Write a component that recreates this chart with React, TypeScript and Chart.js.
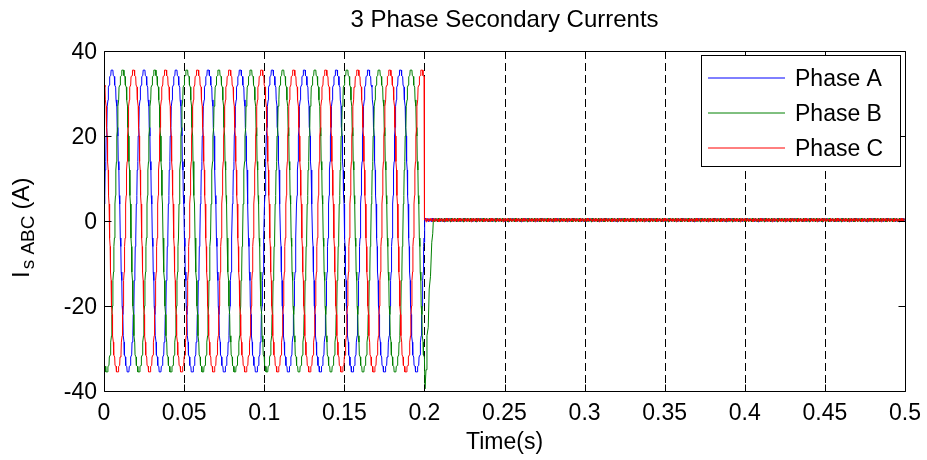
import React, { useEffect, useRef } from "react";
import { Chart, registerables } from "chart.js";

Chart.register(...registerables);

// ---------- text ----------
const TITLE = "3 Phase Secondary Currents";
const X_LABEL = "Time(s)";
const Y_LABEL_MAIN = "I";
const Y_LABEL_SUB = "s ABC";
const Y_LABEL_UNIT = "(A)";
const SERIES_NAMES = ["Phase A", "Phase B", "Phase C"];
const SERIES_COLORS = ["#0000ff", "#008000", "#ff0000"];

// ---------- axes ----------
const X_TICKS = [0, 0.05, 0.1, 0.15, 0.2, 0.25, 0.3, 0.35, 0.4, 0.45, 0.5];
const X_TICK_LABELS = ["0", "0.05", "0.1", "0.15", "0.2", "0.25", "0.3", "0.35", "0.4", "0.45", "0.5"];
const Y_TICKS = [-40, -20, 0, 20, 40];
const Y_TICK_LABELS = ["-40", "-20", "0", "20", "40"];

// ---------- data ----------
const FREQUENCY = 50; // Hz, 10 cycles up to the trip
const FAULT_TIME = 0.2; // s, currents collapse here
const END_TIME = 0.5;
const CYCLES = 10;
const PHASE_SHIFTS = [0, -120, 120]; // deg, A, B, C

// One positive half-cycle of the stepped current (vertices)
const HALF_CYCLE_ANGLES = [3, 9, 13, 20, 24, 32, 36, 45, 49, 60, 64, 76, 80, 100, 104, 116, 120, 131, 135, 144, 148, 156, 160, 167, 171, 177];
const HALF_CYCLE_AMPS = [4, 6, 12, 14, 20, 22, 27, 28.5, 31.5, 32, 34, 34.2, 35.5, 35.5, 34.2, 34, 32, 31.5, 28.5, 27, 22, 20, 14, 12, 6, 4];

// Behaviour right at the trip (t, A)
const TAIL_A_T = [0.2, 0.2003];
const TAIL_A_V = [-5, 0.3];
const TAIL_B_T = [0.2, 0.2004, 0.201, 0.2016, 0.2024, 0.203, 0.2038, 0.2046, 0.2052, 0.2056];
const TAIL_B_V = [-32, -39.5, -35, -27, -25, -16, -13, -5, -3, 0.3];
const TAIL_C_T = [0.2, 0.2001];
const TAIL_C_V = [32, 0.3];

// Residual ripple after the trip (A), sampled every 0.5 ms
const RIPPLE_STEP = 0.0005;
const RIPPLE_AMPS = [0.7, 0.0, 0.5, -0.1, 0.6, 0.1, 0.4, -0.2];

const FONT = '"Liberation Sans", Arial, Helvetica, sans-serif';

type Pt = { x: number; y: number };

function buildPhase(shiftDeg: number, tailT: number[], tailV: number[], rippleOffset: number): Pt[] {
  const period = 1 / FREQUENCY;
  const angles = [...HALF_CYCLE_ANGLES, ...HALF_CYCLE_ANGLES.map((a) => a + 180)];
  const amps = [...HALF_CYCLE_AMPS, ...HALF_CYCLE_AMPS.map((v) => -v)];
  const pts: Pt[] = [];
  for (let k = -2; k <= CYCLES + 1; k++) {
    for (let i = 0; i < angles.length; i++) {
      const t = (k + (angles[i] - shiftDeg) / 360) * period;
      if (t >= -0.003 && t < FAULT_TIME) pts.push({ x: t, y: amps[i] });
    }
  }
  pts.sort((a, b) => a.x - b.x);
  for (let i = 0; i < tailT.length; i++) pts.push({ x: tailT[i], y: tailV[i] });
  let t = tailT[tailT.length - 1] + RIPPLE_STEP;
  let j = rippleOffset;
  while (t <= END_TIME + 1e-9) {
    pts.push({ x: t, y: RIPPLE_AMPS[j % RIPPLE_AMPS.length] });
    t += RIPPLE_STEP;
    j++;
  }
  return pts;
}

const decorPlugin = {
  id: "decor",
  beforeDatasetsDraw(chart: any) {
    const { ctx, chartArea: a, scales } = chart;
    const x = scales.x;
    ctx.save();
    ctx.strokeStyle = "#000";
    ctx.lineWidth = 1;
    ctx.setLineDash([8, 4]);
    for (const v of X_TICKS) {
      if (v <= X_TICKS[0] || v >= X_TICKS[X_TICKS.length - 1]) continue;
      const px = Math.round(x.getPixelForValue(v)) + 0.5;
      ctx.beginPath();
      ctx.moveTo(px, a.top);
      ctx.lineTo(px, a.bottom);
      ctx.stroke();
    }
    ctx.restore();
  },
  afterDatasetsDraw(chart: any) {
    const { ctx, chartArea: a, scales } = chart;
    const x = scales.x;
    const y = scales.y;
    const L = a.left + 0.5;
    const R = a.right + 0.5;
    const T = a.top + 0.5;
    const B = a.bottom + 0.5;
    const tickLen = 7;
    ctx.save();
    ctx.strokeStyle = "#000";
    ctx.lineWidth = 1;
    ctx.setLineDash([]);
    ctx.beginPath();
    ctx.rect(L, T, R - L, B - T);
    ctx.stroke();
    // ticks
    ctx.beginPath();
    for (const v of X_TICKS) {
      const px = Math.round(x.getPixelForValue(v)) + 0.5;
      ctx.moveTo(px, B);
      ctx.lineTo(px, B - tickLen);
      ctx.moveTo(px, T);
      ctx.lineTo(px, T + tickLen);
    }
    for (const v of Y_TICKS) {
      const py = Math.round(y.getPixelForValue(v)) + 0.5;
      ctx.moveTo(L, py);
      ctx.lineTo(L + tickLen, py);
      ctx.moveTo(R, py);
      ctx.lineTo(R - tickLen, py);
    }
    ctx.stroke();

    // tick labels
    ctx.fillStyle = "#000";
    ctx.font = `23px ${FONT}`;
    ctx.textBaseline = "alphabetic";
    ctx.textAlign = "center";
    X_TICKS.forEach((v, i) => {
      ctx.fillText(X_TICK_LABELS[i], x.getPixelForValue(v), 420);
    });
    ctx.textAlign = "right";
    Y_TICKS.forEach((v, i) => {
      ctx.fillText(Y_TICK_LABELS[i], 97, y.getPixelForValue(v) + 8);
    });

    // title and x label
    const cx = (a.left + a.right) / 2;
    ctx.textAlign = "center";
    ctx.font = `24px ${FONT}`;
    ctx.fillText(TITLE, cx, 27);
    ctx.font = `23px ${FONT}`;
    ctx.fillText(X_LABEL, cx, 449);

    // y label with subscript
    ctx.save();
    ctx.translate(29, 278);
    ctx.rotate(-Math.PI / 2);
    ctx.textAlign = "left";
    ctx.font = `24px ${FONT}`;
    ctx.fillText(Y_LABEL_MAIN, 0, 0);
    let off = ctx.measureText(Y_LABEL_MAIN).width + 2;
    ctx.font = `19px ${FONT}`;
    ctx.fillText(Y_LABEL_SUB, off, 5);
    off += ctx.measureText(Y_LABEL_SUB).width + 6;
    ctx.font = `24px ${FONT}`;
    ctx.fillText(Y_LABEL_UNIT, off, 0);
    ctx.restore();

    // legend
    const lx = 701.5, ly = 55.5, lw = 199, lh = 111;
    ctx.fillStyle = "#fff";
    ctx.fillRect(lx, ly, lw, lh);
    ctx.strokeStyle = "#000";
    ctx.strokeRect(lx, ly, lw, lh);
    ctx.font = `23px ${FONT}`;
    ctx.textAlign = "left";
    SERIES_NAMES.forEach((name, i) => {
      const rowY = 78 + i * 35;
      ctx.strokeStyle = SERIES_COLORS[i];
      ctx.beginPath();
      ctx.moveTo(708, rowY);
      ctx.lineTo(785, rowY);
      ctx.stroke();
      ctx.fillStyle = "#000";
      ctx.fillText(name, 795, rowY + 8);
    });
    ctx.restore();
  },
};

export default function App() {
  const ref = useRef<HTMLCanvasElement | null>(null);
  useEffect(() => {
    if (!ref.current) return;
    const tails = [
      [TAIL_A_T, TAIL_A_V],
      [TAIL_B_T, TAIL_B_V],
      [TAIL_C_T, TAIL_C_V],
    ];
    const datasets = SERIES_NAMES.map((name, i) => ({
      label: name,
      data: buildPhase(PHASE_SHIFTS[i], tails[i][0], tails[i][1], i * 3),
      borderColor: SERIES_COLORS[i],
      backgroundColor: SERIES_COLORS[i],
      borderWidth: 1,
      pointRadius: 0,
      tension: 0,
      fill: false,
      order: 3 - i,
    }));
    const chart = new Chart(ref.current, {
      type: "line",
      data: { datasets },
      options: {
        animation: false,
        responsive: false,
        parsing: false,
        normalized: true,
        events: [],
        layout: { padding: { left: 104, right: 22, top: 51, bottom: 69 } },
        plugins: { legend: { display: false }, title: { display: false }, tooltip: { enabled: false } },
        scales: {
          x: { type: "linear", min: X_TICKS[0], max: X_TICKS[X_TICKS.length - 1], display: false },
          y: { type: "linear", min: Y_TICKS[0], max: Y_TICKS[Y_TICKS.length - 1], display: false },
        },
      },
      plugins: [decorPlugin],
    });
    return () => chart.destroy();
  }, []);
  return (
    <div style={{ position: "absolute", left: 0, top: 0, width: 927, height: 460, background: "#fff" }}>
      <canvas ref={ref} width={927} height={460} style={{ width: 927, height: 460, display: "block" }} />
    </div>
  );
}
